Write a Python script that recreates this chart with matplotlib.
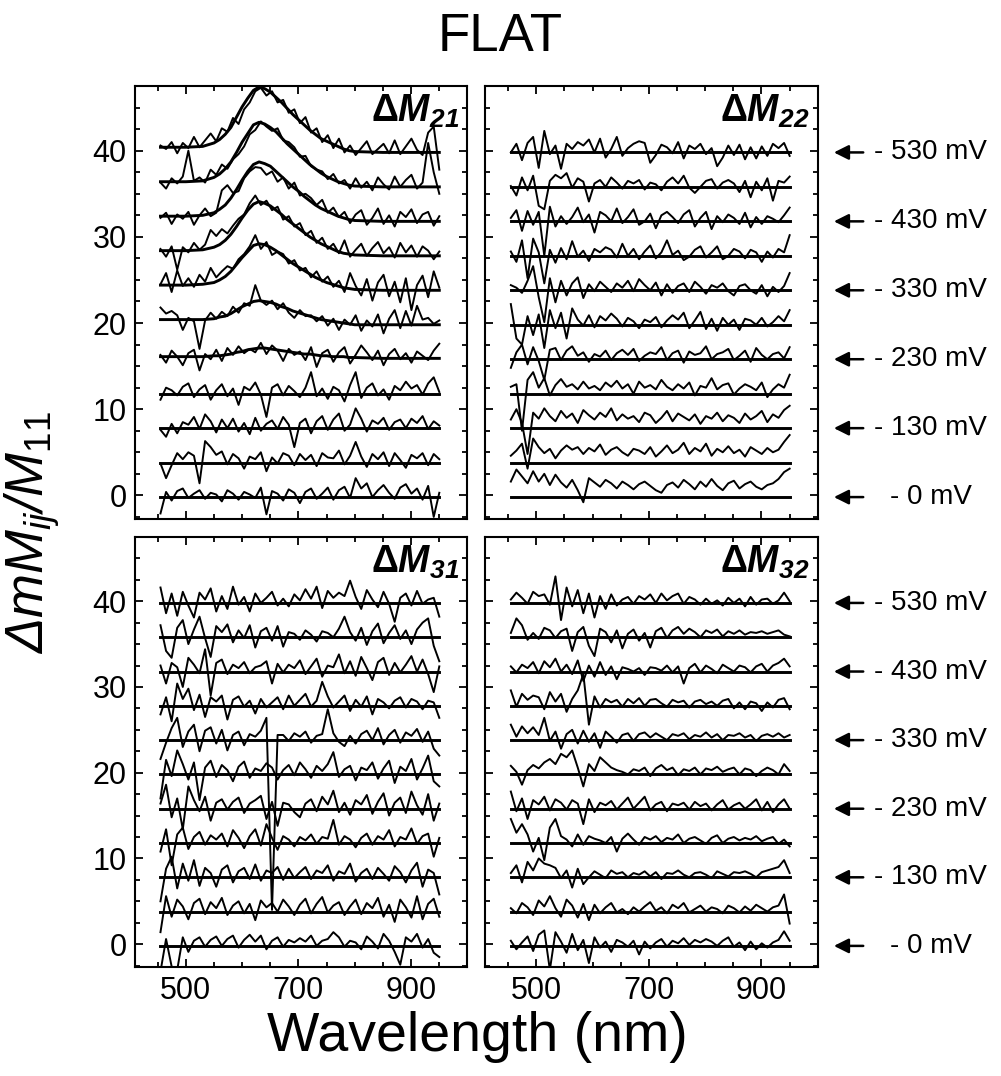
import numpy as np
import matplotlib.pyplot as plt
from matplotlib.ticker import MultipleLocator, FixedLocator
from matplotlib.transforms import blended_transform_factory

plt.rcParams['font.family'] = ['Liberation Sans', 'DejaVu Sans']
plt.rcParams['mathtext.fontset'] = 'custom'
plt.rcParams['mathtext.rm'] = 'Liberation Sans'
plt.rcParams['mathtext.it'] = 'Liberation Sans:italic'
plt.rcParams['mathtext.bf'] = 'Liberation Sans:bold'
plt.rcParams['mathtext.bfit'] = 'Liberation Sans:italic:bold'

# trace offsets (one trace per bias step) and labelled biases
offsets = [0, 4, 8, 12, 16, 20, 24, 28, 32, 36, 40]
bias_pos = [40, 32, 24, 16, 8, 0]
bias_labels = ['- 530 mV', '- 430 mV', '- 330 mV', '- 230 mV', '- 130 mV', '- 0 mV']
wl_start, wl_end = 455, 950

# dM21 measured traces (relative to offset), bottom to top
m21 = [
    [-2.1, 0.4, -0.6, 0.5, 0.8, -0.3, 0.2, 0.6, -0.4, 0.3, 0.1, -0.7, 0.6, 0.2, -0.5, 0.4, 0.1, -0.3, 0.9, -2.2, 0.5, 0.2, -0.6, 0.7, 0.3, -0.9, 0.4, 0.8, -0.4, 0.2, 0.9, -0.5, 0.6, 1.0, -0.3, 2.0, 0.8, 1.4, -0.2, 0.6, 1.2, 0.3, -0.4, 0.9, 1.3, 0.2, 0.8, -0.5, 1.1, -2.5, 0.3],
    [-0.3, -2.0, -0.5, 0.9, 0.2, 1.0, 0.6, -2.6, 2.3, 1.6, 0.7, 1.1, -0.4, 0.8, 0.3, -0.9, 0.5, 0.2, 1.0, -1.2, 0.4, -0.3, 0.9, 0.6, -0.5, 0.8, 0.1, 0.7, -0.6, 0.9, 0.4, 0.3, 1.2, -0.4, 0.6, 2.2, 0.5, -0.7, 0.8, 0.2, 1.0, -0.6, 0.9, 0.1, -0.8, 0.7, 0.3, 0.9, -0.5, 0.8, 0.2],
    [-0.4, -1.2, 0.3, -0.8, 0.5, 0.2, 1.1, -0.3, 1.4, 0.6, -0.7, 0.8, -0.2, 0.9, -0.6, 0.4, -0.9, 1.0, -0.5, 0.3, 0.7, -0.3, 1.1, 0.2, -2.4, 0.4, 0.9, -0.8, 0.6, 1.2, -0.4, 0.8, 1.5, -0.5, 0.2, 2.1, 0.9, -0.6, 0.7, 0.3, 1.0, -0.4, 0.5, 0.8, -0.2, 0.9, 0.4, 1.2, -0.3, 0.6, 0.1],
    [-0.9, 0.5, 0.2, -0.4, 0.6, 1.0, -0.6, 0.3, 0.8, -0.9, 0.2, 0.9, -0.5, 0.4, -1.5, 0.6, 0.2, 1.1, -0.3, -2.9, 0.5, 0.9, -0.4, 0.7, 0.1, -0.6, 0.5, 2.3, -0.5, 0.4, -0.8, 0.6, 0.2, -1.1, 0.8, 2.3, -0.7, 0.5, 1.0, -0.4, 0.3, -0.9, 0.7, 0.2, 1.2, 0.4, 0.8, -0.3, 1.0, 1.7, 0.0],
    [0.3, -0.6, 0.8, 0.1, -0.9, 0.5, 0.9, -1.5, 0.4, -0.2, 0.9, -0.4, 1.1, 0.3, 1.3, 0.5, 1.0, 0.6, 1.7, 0.4, 1.4, 0.8, -0.4, 1.0, 0.3, 0.7, -0.3, 1.2, -1.1, 0.5, 0.9, -0.5, 0.6, 1.2, -0.7, 0.3, 1.4, 0.6, -0.3, 0.8, -0.9, 0.4, 1.0, -0.2, 0.5, -0.6, 0.7, 0.2, -0.3, 0.8, 1.6],
    [1.8, 1.1, 1.4, 0.9, -0.8, 0.6, 0.2, -3.0, 0.3, 1.2, 0.5, 1.3, 0.8, 1.9, 1.2, 2.3, 2.0, 4.4, 2.6, 2.1, 2.6, 1.6, 2.3, 1.2, 0.6, 1.5, 0.8, 0.9, 0.2, 0.8, -0.3, 0.5, -0.8, 0.4, -0.2, 0.9, -0.9, 0.3, -0.4, 1.0, -1.2, 0.5, 1.5, -0.6, 1.4, -0.3, 2.0, 0.4, 0.6, -0.1, 0.3],
    [0.5, 1.8, -0.4, 2.1, 0.3, 1.2, 0.2, 1.6, 0.8, 2.4, 1.3, 2.0, 2.6, 2.3, 3.4, 4.0, 4.9, 6.2, 4.6, 5.4, 3.9, 4.3, 4.0, 2.9, 3.3, 2.1, 2.4, 1.3, 2.0, 0.8, 1.4, 0.2, 0.9, -0.4, 1.8, 0.3, -0.8, 1.1, -1.4, 0.7, 1.6, -0.9, 0.8, -1.6, 1.2, -2.5, 0.4, 1.5, -1.0, 2.0, 0.1],
    [0.6, -0.3, 0.9, -1.8, 0.8, 0.2, 1.3, 0.5, 1.1, 2.8, 2.1, 2.9, 2.4, 3.3, 4.1, 4.6, 5.9, 6.8, 5.7, 6.2, 5.1, 5.5, 4.0, 4.4, 3.2, 3.6, 2.2, 2.7, 1.3, 1.9, 0.6, 1.2, 0.1, 1.6, -0.3, 0.5, 1.2, -0.2, 0.7, 1.4, 0.1, 0.8, -0.4, 1.3, 0.2, 1.0, -0.3, 0.9, 0.4, -0.6, 0.3],
    [0.2, 0.8, -0.5, 0.6, 0.1, 0.9, -0.6, 0.5, 1.3, 0.4, 0.8, 3.4, 4.0, 3.1, 3.3, 4.8, 5.6, 6.1, 6.0, 5.2, 5.6, 4.4, 4.9, 3.6, 4.3, 2.8, 3.0, 2.5, 1.7, 2.3, 0.8, 1.4, 0.3, 0.9, -0.4, 0.6, 1.1, -0.6, 0.2, 1.3, -0.5, 0.5, -0.8, 0.9, 0.3, 1.2, -0.4, 0.6, 0.9, -0.7, 0.4],
    [0.3, -0.4, 0.8, 0.2, 1.0, 4.0, 0.5, 0.9, 0.3, 1.8, 1.2, 2.4, 1.9, 3.0, 3.6, 4.5, 5.9, 6.4, 7.4, 6.8, 6.3, 6.6, 5.2, 5.0, 4.4, 3.3, 3.4, 2.2, 1.8, 1.6, 0.7, 1.3, 0.2, 0.6, -0.4, 0.8, -0.3, 0.4, -0.6, 0.9, 0.1, -0.5, 1.0, -0.2, 0.6, 1.2, -0.4, 0.3, 4.9, 1.5, -1.0],
    [0.6, 0.2, 1.0, -0.3, 0.9, 0.3, 1.6, 0.4, 1.2, 2.0, 1.1, 2.6, 2.2, 3.8, 3.1, 4.8, 5.6, 6.9, 7.3, 6.4, 6.9, 5.6, 5.9, 4.4, 4.8, 3.2, 3.9, 2.1, 2.6, 1.0, 1.8, 0.3, 1.4, -0.2, 0.6, -0.5, 0.3, 1.1, -0.4, 0.2, 0.8, -0.3, 1.2, -0.4, 0.5, 1.4, 0.1, -0.5, 2.1, 2.8, -2.2],
]

# dM21 fitted peaks for the traces at 16..40
fit_wl = [455, 500, 530, 550, 560, 570, 580, 590, 600, 610, 620, 630, 640, 650, 660, 670,
          680, 690, 700, 710, 720, 730, 740, 750, 760, 770, 780, 790, 800, 850, 900, 950]
m21_fit = [
    [0.1, 0.1, 0.1, 0.2, 0.2, 0.3, 0.4, 0.6, 0.7, 0.9, 1.0, 1.1, 1.1, 1.0, 0.9, 0.8, 0.7, 0.6, 0.5, 0.4, 0.4, 0.3, 0.2, 0.2, 0.1, 0.1, 0.1, 0.0, 0.0, -0.1, -0.1, -0.1],
    [0.4, 0.4, 0.4, 0.5, 0.7, 0.8, 1.1, 1.5, 1.9, 2.2, 2.5, 2.6, 2.5, 2.4, 2.2, 1.9, 1.7, 1.4, 1.2, 1.0, 0.8, 0.6, 0.4, 0.3, 0.2, 0.1, 0.0, -0.1, -0.2, -0.2, -0.2, -0.2],
    [0.4, 0.4, 0.5, 0.7, 1.0, 1.4, 2.0, 2.8, 3.6, 4.3, 5.0, 5.2, 5.1, 4.8, 4.4, 3.9, 3.4, 2.9, 2.5, 2.1, 1.7, 1.3, 1.0, 0.7, 0.5, 0.3, 0.1, 0.0, -0.1, -0.2, -0.2, -0.2],
    [0.4, 0.4, 0.5, 0.8, 1.1, 1.6, 2.3, 3.2, 4.2, 5.1, 5.8, 6.1, 5.9, 5.6, 5.1, 4.6, 4.0, 3.5, 3.0, 2.5, 2.0, 1.6, 1.2, 0.9, 0.6, 0.3, 0.1, 0.0, -0.1, -0.2, -0.2, -0.2],
    [0.4, 0.4, 0.5, 0.8, 1.2, 1.7, 2.5, 3.5, 4.6, 5.6, 6.4, 6.7, 6.5, 6.2, 5.6, 5.0, 4.4, 3.8, 3.3, 2.7, 2.2, 1.7, 1.3, 1.0, 0.7, 0.4, 0.2, 0.0, -0.1, -0.2, -0.2, -0.2],
    [0.4, 0.4, 0.5, 0.9, 1.3, 1.9, 2.7, 3.8, 5.0, 6.0, 7.0, 7.3, 7.1, 6.7, 6.2, 5.5, 4.8, 4.2, 3.6, 3.0, 2.4, 1.9, 1.4, 1.0, 0.7, 0.4, 0.2, 0.0, -0.1, -0.2, -0.2, -0.2],
    [0.4, 0.4, 0.5, 0.9, 1.3, 1.9, 2.7, 3.9, 5.1, 6.1, 7.0, 7.4, 7.2, 6.8, 6.2, 5.6, 4.9, 4.2, 3.6, 3.0, 2.4, 1.9, 1.4, 1.1, 0.8, 0.5, 0.2, 0.0, -0.1, -0.2, -0.2, -0.2],
]

m22 = [
    [1.6, 3.0, 2.2, 1.4, 2.8, 1.6, 2.5, 1.2, 2.4, 1.5, 0.9, 1.8, 0.6, -0.8, 2.0, 1.5, 1.0, 1.8, 1.4, 0.8, 1.6, 1.2, 0.7, 1.3, 1.6, 1.1, 0.6, 0.3, 1.2, 1.5, 0.9, 1.8, 1.3, 0.7, 1.6, 1.0, 1.9, 1.1, 0.6, 1.4, 1.7, 0.8, 1.3, 1.6, 1.0, 0.7, 1.2, 1.4, 1.9, 2.7, 3.1],
    [0.6, 1.2, 2.0, -0.9, 2.6, 1.6, 0.9, 1.4, 0.3, 1.2, 1.8, 1.3, 1.6, 0.8, 1.5, 1.1, 1.9, 0.7, 1.3, 1.6, 1.0, 0.6, 1.4, 1.2, 0.8, 1.6, 0.5, 1.1, 1.8, 0.9, 1.3, 2.1, 0.8, 1.5, 1.1, 2.0, 0.6, 1.4, 1.0, 1.7, 0.9, 1.3, 0.5, 1.6, 1.2, 0.8, 1.5, 1.0, 1.3, 2.2, 3.0],
    [0.8, 2.0, 0.4, -3.2, 1.6, 0.9, 2.1, 1.2, 0.6, 1.8, 1.0, 1.5, 0.4, 1.9, 1.3, 0.8, 1.6, 1.1, 2.1, 0.7, 1.4, 0.9, 1.2, 0.5, 1.6, 1.3, 0.4, 1.0, 1.8, 0.6, 1.5, 1.1, 0.7, 1.4, 0.3, 1.2, 0.9, 1.6, 0.6, 1.3, 1.0, 0.4, 1.5, 0.8, 1.2, 1.8, 0.5, 1.4, 1.0, 1.9, 2.4],
    [0.6, 0.9, -4.5, 1.4, 2.3, 0.5, 1.6, -0.4, 0.8, 1.5, 0.6, 0.9, 0.3, 1.2, 0.4, 0.7, 0.2, 1.1, 0.6, 1.3, 0.4, 0.9, -0.2, 1.2, 0.5, 0.8, 0.3, 1.4, 0.6, 0.2, 0.9, 0.4, 1.1, -0.4, 0.7, 0.5, 1.6, 0.3, 0.8, 1.0, -0.3, 0.4, 0.9, 0.6, 0.2, 1.1, -0.6, 0.3, 0.9, 0.5, 2.0],
    [-1.2, 0.6, 1.5, -0.8, 1.2, -0.4, -2.6, 0.9, 1.1, -0.3, 0.8, 1.3, 0.2, 0.6, -0.5, 0.4, 0.1, 0.8, -0.3, 0.5, 0.9, 0.3, 1.0, -0.4, 0.2, 0.6, 0.4, 1.2, -0.3, 0.5, 0.8, -0.6, 0.7, 0.3, 0.5, 1.3, -0.2, 0.4, 0.6, 1.0, -0.3, 0.2, 0.8, -0.5, 1.1, 0.3, -0.2, 0.4, 0.6, -0.1, 1.2],
    [2.2, -1.8, -2.5, 0.8, -1.4, 1.0, -2.9, 1.5, -0.6, 1.2, -1.8, 1.7, 0.4, -0.3, 0.9, -0.5, 0.8, 0.3, 1.1, 0.5, -0.4, 0.6, 0.2, -0.6, 0.4, 0.1, 0.7, -0.5, 0.3, 0.9, 0.4, 1.2, -0.6, 0.3, 1.3, -0.7, 0.5, -0.9, 0.6, -0.2, 0.4, -0.8, 0.5, 0.3, -0.2, 0.6, -0.4, 0.1, 0.8, 0.2, 1.5],
    [0.4, 0.1, -0.5, 0.9, 2.6, -1.0, -3.9, 1.2, -1.6, 0.9, -0.8, 0.6, 1.3, -1.1, 0.5, -0.3, 0.8, 0.2, -0.4, 0.6, 0.1, 0.9, -0.3, 1.1, 0.4, -0.2, 0.7, -0.8, 0.5, -0.5, 0.3, 0.6, -0.4, 0.8, 0.2, -0.6, 0.4, 0.1, 0.6, -0.3, -0.8, 0.3, 0.5, -0.2, -0.6, 0.4, -0.9, 0.2, -0.4, 0.3, 1.8],
    [0.3, -0.9, 1.6, -2.8, 1.8, 0.2, -3.4, 0.5, -1.0, 0.7, -0.6, 1.5, -0.3, 0.4, -0.8, 0.6, 0.2, 0.8, 0.5, -0.4, 1.2, -0.2, 0.6, -0.6, 0.3, 1.0, -0.5, 0.2, 1.6, -0.1, 0.4, -0.7, -0.3, 0.5, 0.9, -0.4, 0.2, 0.9, -0.6, -0.2, 0.6, 0.3, -0.5, 0.5, 0.2, -0.9, 0.3, -0.4, 0.6, 0.2, 2.2],
    [0.2, 1.1, -1.3, 1.0, -0.6, 0.9, -4.2, 1.5, -0.8, 0.4, -0.5, 0.3, 1.4, -0.3, 0.6, -1.5, 0.9, 0.5, -0.2, 1.3, -0.4, 0.3, 1.2, -0.6, -0.2, 0.7, -1.0, 0.5, 0.9, 0.3, -0.4, 0.6, 1.1, -0.8, 0.2, 0.9, -1.1, 0.4, -0.3, 0.6, 0.2, -0.5, 0.8, -0.9, 0.3, -0.5, 0.4, 0.1, -0.3, 0.5, 1.4],
    [-0.1, -1.2, 0.9, -0.6, 1.1, -2.4, -2.8, 0.5, 1.2, 0.8, 1.4, -0.3, 0.8, 0.4, -1.9, 0.2, 0.6, -0.2, 0.9, 0.3, -0.4, 0.5, 0.2, 0.6, -0.5, 0.3, 0.1, -0.6, 0.4, 0.9, 0.2, 1.1, -0.3, -0.9, -0.2, 0.5, 0.7, -0.4, 0.3, 0.6, 0.2, -0.8, 0.5, -1.4, 0.4, -0.6, 0.8, -1.8, 0.5, 0.3, 1.0],
    [-0.2, 0.8, -1.1, 0.9, 1.6, -2.0, 2.3, -0.4, 0.6, -2.1, 0.8, 0.2, 1.0, 0.6, 1.3, -0.2, 1.4, -0.8, 0.2, 1.6, -0.6, 0.3, 0.8, 1.1, 0.9, -1.4, -0.5, 0.7, 0.4, -0.3, 1.0, -0.9, 0.6, 0.2, 0.8, -0.4, 0.3, -1.8, -0.8, 0.6, -0.5, 0.7, -1.0, 0.4, -0.9, 0.5, -0.6, 0.8, 0.3, 0.9, -0.6],
]

m31 = [
    [-3.2, 0.6, -2.6, -3.0, 0.8, -0.9, 0.4, 0.8, -0.3, 0.5, 0.9, -0.2, 0.6, 1.0, -0.4, 0.5, 1.1, 0.3, 1.0, -0.6, 0.4, 0.8, -0.3, 0.5, 0.2, 0.7, 0.3, 1.0, -0.2, 0.4, 0.6, 1.4, 0.8, -0.3, 0.4, 0.2, -0.6, 0.9, 0.3, -0.5, 1.2, 0.4, -0.9, -2.4, 0.8, 0.3, 1.2, -0.4, 0.6, -1.0, -1.5],
    [-2.6, 1.6, -0.8, 1.2, 0.4, -1.1, 0.8, 1.3, -0.5, 0.9, 0.2, 1.4, -0.6, 0.5, 1.0, -0.4, 0.7, -1.2, 1.1, 0.3, 0.8, -0.2, 1.2, 0.4, -0.6, 0.6, 1.3, -0.4, 0.7, 1.5, -0.3, 0.5, 0.9, -0.6, 0.4, 1.2, -0.5, 0.8, 0.2, 1.4, -0.8, 0.6, -1.4, 1.2, 0.3, -0.9, 1.6, -1.1, 0.7, 1.3, -0.8],
    [-3.0, 0.8, 2.2, -1.5, 1.4, -0.6, 1.8, -1.2, 0.9, 0.3, -1.3, 0.7, 1.2, -0.8, 0.5, 0.9, -0.4, 1.3, -0.6, 0.6, 0.3, 1.0, -0.5, 0.8, -0.3, 0.4, 1.0, -0.4, 0.6, 0.3, 1.2, -0.6, 0.5, 0.2, 1.4, -0.7, 0.3, 0.8, -0.4, 0.9, 0.2, -0.6, 1.1, 0.4, -0.8, 0.6, 1.5, -1.3, 0.7, 0.3, -2.2],
    [-1.2, 1.4, -2.8, 0.8, 1.6, -0.9, 0.5, 1.1, -0.4, 0.7, 0.2, 0.9, -0.6, 1.3, 0.4, -0.8, 0.6, 1.4, -0.5, 2.0, 0.4, -1.0, 0.6, 0.2, -0.6, 0.5, 0.1, 0.8, -0.3, 0.5, 0.3, 2.5, -0.4, 0.6, 0.2, -0.7, 0.4, 0.9, -0.4, 0.6, 0.2, 1.3, -0.6, 0.5, 0.2, 1.5, -0.3, 0.6, 0.9, -1.8, 0.4],
    [0.4, 2.6, -1.2, 1.0, -2.6, 2.4, 0.8, -0.5, 1.2, -1.6, 0.5, 0.9, -0.3, 0.6, 1.1, -0.7, 0.4, 0.8, 1.3, -1.4, 0.6, -2.2, 0.5, 0.3, -0.6, -1.2, 0.4, 0.9, -0.5, 1.2, 0.3, 1.9, -0.6, 0.5, -0.9, 0.8, 0.3, 1.4, -0.8, 0.6, 1.6, -1.0, 0.5, 1.1, -0.7, 1.8, 0.2, -0.9, 1.5, -1.6, 0.4],
    [-3.0, 1.5, -0.4, 2.6, 1.0, -0.8, 1.2, -3.2, 0.6, 1.4, -0.5, 0.9, 0.3, -1.0, 0.7, 1.3, -0.6, 0.5, 0.2, 1.1, 0.6, -0.8, 0.3, 0.9, -0.3, 1.2, 0.4, -0.6, 0.8, 0.2, 1.0, 2.4, -0.5, 0.4, 0.8, -0.9, 0.6, 0.3, 1.2, -0.7, 0.5, 1.4, -1.2, 0.7, 0.2, 1.6, -0.8, 0.5, 2.0, -1.0, -1.6],
    [-2.4, -0.5, 1.2, 2.4, -1.0, 0.8, 1.6, -1.5, 0.9, 1.3, -0.6, 1.0, -1.4, 0.4, 0.8, -0.8, 0.5, 0.2, 0.9, 2.4, -20.0, 0.4, 0.4, -0.3, 0.6, 0.2, 0.8, -0.5, 0.3, 0.5, 3.4, 0.6, -0.4, -0.9, 0.3, -0.6, 0.5, 0.9, -0.2, 1.2, -0.7, 0.4, 1.0, -0.5, 0.7, 0.3, 1.1, -0.4, 0.8, -1.2, -2.0],
    [-1.2, 0.8, -2.0, 2.4, 0.6, 1.8, -0.7, 1.1, -1.5, 0.8, 0.3, 1.0, -1.8, 0.5, 0.9, -0.3, 0.4, -1.1, 0.6, -0.4, 0.2, 0.8, -0.6, 1.0, -0.2, 0.5, 1.2, -0.3, 0.4, 2.6, 0.9, -0.4, 0.3, 1.0, -0.8, 0.5, -0.3, 0.9, -1.2, 0.6, 0.2, -0.5, 0.4, 0.8, -0.4, 0.6, 0.3, -0.6, 0.4, 0.2, -1.6],
    [0.5, -1.6, 0.8, 0.3, -2.0, 1.4, 0.6, -0.4, 2.4, -3.0, 0.8, 1.2, -0.5, 0.6, 0.2, 0.9, -0.4, 0.3, 0.5, 1.0, -1.6, 0.7, -0.3, 0.6, 0.2, 1.1, -0.5, 0.4, 1.3, -0.8, 0.5, 0.3, 1.8, -0.4, 1.0, -0.7, 1.5, 0.2, -1.2, 0.9, 1.4, -0.6, 0.8, -0.3, 0.6, 1.6, -0.2, 1.2, -0.5, -2.6, 0.4],
    [1.2, -1.8, -2.6, 0.9, 1.8, -1.0, 0.7, 2.2, -0.3, -2.5, 1.1, 0.4, 1.3, -0.8, 0.6, -0.3, 1.2, -1.4, 0.5, 0.9, -0.6, 1.1, -1.3, 0.4, 0.2, -0.5, 0.6, 0.1, -0.7, 0.5, 0.3, -0.2, 0.8, 2.2, 0.4, -0.6, 0.9, -1.1, 0.5, 1.4, -0.9, 0.3, 1.2, -0.4, 0.6, -1.0, 0.7, 1.5, 2.0, -1.2, -3.0],
    [1.6, -1.4, 0.9, -1.7, 1.1, -0.5, -1.9, 1.0, 0.2, 1.5, -1.2, 0.6, -0.9, 1.7, -0.4, 0.5, -1.2, 0.9, -0.2, 0.4, 1.1, -0.5, 0.3, -0.6, 0.8, 0.1, 1.4, 0.3, 1.7, -0.8, 1.2, 0.4, 1.0, 0.6, 2.4, 0.5, -0.9, 1.3, 0.2, -0.7, 1.1, -0.3, -2.4, 0.4, 0.9, -0.5, 1.2, -0.3, 0.2, 0.4, -1.8],
]

m32 = [
    [0.4, -0.6, 0.2, 0.9, -0.8, 1.1, 1.6, -3.0, 1.4, 0.3, -1.0, 1.2, -0.7, 0.5, -2.2, 0.8, -0.4, 0.3, -0.9, 0.5, 0.2, -0.3, 0.4, -1.2, 0.3, -0.5, 0.2, 0.6, -0.3, 0.4, 0.1, 0.7, -0.1, 0.5, 0.2, 0.6, 0.3, -0.2, 0.4, 0.8, -0.3, 0.2, -0.7, 0.3, -0.6, 0.1, -0.4, 0.2, 0.5, 1.5, 0.4],
    [0.2, -0.4, 0.8, 0.3, -0.6, 1.1, 0.4, 1.6, 0.2, -0.8, 1.2, 0.5, -0.9, 0.7, -1.2, 0.6, -0.4, 0.3, 0.8, -0.3, 0.1, -0.5, 0.3, -0.2, 0.4, 0.9, -0.1, 0.3, -0.4, 0.6, 0.2, 0.8, -0.3, 0.1, 0.5, -0.2, 0.3, 0.1, -0.4, 0.5, 0.2, -0.3, 0.4, -0.1, 0.6, 0.2, -0.2, 0.3, 0.5, 1.8, -1.6],
    [0.3, 1.2, -0.8, 1.6, 0.6, 2.0, 1.4, 1.2, 0.9, -0.3, 0.6, -1.4, 0.8, -1.0, -0.2, 0.5, 0.1, -0.3, 0.6, 0.2, 0.4, -0.2, 0.3, 0.1, 0.5, -0.1, 0.4, -0.4, 0.3, 0.2, 0.6, 0.1, -0.2, 0.3, 0.4, 0.1, -0.3, 0.5, 0.2, -0.1, 0.4, 0.3, 0.5, 0.2, -0.2, 0.4, 0.6, 0.8, 1.0, 1.8, 0.3],
    [2.6, 1.0, 2.0, 0.8, -1.2, 0.4, -2.2, 1.6, 2.6, 0.6, 0.2, -0.6, 0.8, -0.4, 0.6, 0.3, 0.1, -0.2, 0.5, -1.2, 0.3, 0.9, 0.2, -0.4, 0.5, 0.2, 0.6, -0.1, 0.4, 0.2, 0.8, -0.2, 0.3, 0.5, 0.1, -0.3, 0.4, 0.7, -0.2, 0.3, 0.5, 0.1, 0.4, 0.2, 0.6, 0.0, 0.3, 0.5, -0.3, 0.2, -0.6],
    [1.8, -0.5, 1.0, -1.4, 0.8, 0.3, 1.2, -0.4, 0.9, 0.5, -0.3, 0.8, 0.4, -2.0, 0.9, -0.6, 0.5, 0.2, 0.7, -0.3, 0.4, 1.1, -0.2, 0.5, 1.2, -0.4, 0.3, 0.6, -0.5, 0.4, 0.2, 0.5, -0.3, 0.6, 0.1, 0.4, -0.4, 0.3, 0.8, -0.3, 0.2, 0.5, -0.2, 0.3, 0.9, -0.4, 0.6, -0.6, 0.3, 0.9, -0.2],
    [0.8, 0.1, -1.4, 0.3, 0.9, 0.5, 1.2, 1.6, 1.0, 2.2, 1.8, 2.6, 0.6, -1.6, 1.0, 0.2, 1.8, 1.2, 0.6, 0.3, 0.1, -0.2, 0.4, 0.2, 0.6, -0.4, 0.5, 0.9, 0.3, 0.6, -0.3, 0.4, 0.2, 0.6, -0.2, 0.5, 0.3, 0.7, 0.1, 0.4, 0.6, -0.2, 0.5, 0.3, -0.4, 0.2, 0.6, 0.3, -0.2, 1.0, 0.2],
    [1.6, 0.2, 1.4, 0.6, 1.3, 0.4, 2.4, -0.3, 0.8, -1.2, 0.5, 1.0, -0.6, 0.9, -0.4, 0.6, -1.1, 0.8, 0.2, -0.5, 0.4, 0.6, -0.3, 0.5, 0.7, 0.1, 0.6, 0.2, -0.2, 0.5, 0.3, 0.6, -0.1, 0.4, 0.2, 0.7, 0.1, 0.5, -0.2, 0.4, 0.3, 0.6, 0.1, 0.4, -0.3, 0.3, 0.5, 0.2, 0.6, 0.1, 0.4],
    [1.6, -0.3, 1.2, 0.5, 1.0, 0.8, -0.6, 1.4, 0.3, 1.2, -0.9, 0.6, 1.6, 3.5, -2.4, 0.9, -0.4, 0.6, 0.2, 0.5, -0.3, 0.6, 0.1, 0.7, -0.2, 0.5, 0.6, 0.1, -0.3, 0.5, 0.2, 0.4, -0.4, 0.3, 0.5, 0.0, 0.3, -0.2, 0.4, 0.6, -0.5, 0.2, -0.6, 0.3, 0.1, -0.8, 0.2, -0.4, 0.5, 0.7, -0.6],
    [0.4, -0.3, 0.6, 0.2, 0.9, -0.4, 1.0, 0.3, 1.3, -0.2, 0.6, -0.5, 1.1, -1.3, 0.5, -0.8, 0.9, -0.6, 0.4, -1.1, 0.3, 0.1, -0.2, 0.2, -0.6, 0.3, 0.2, -0.1, 0.5, -0.3, 0.4, -1.6, 0.2, 0.7, -0.3, 0.5, 0.1, -0.4, 0.6, 0.2, -0.2, 0.5, 0.3, -0.3, 0.4, 0.7, -0.2, 0.5, 0.8, 1.3, 0.4],
    [0.3, 2.0, 1.2, -0.5, 0.3, -0.4, 0.9, 0.6, -0.3, 0.5, 0.8, -1.8, 0.4, 1.0, -1.2, -2.4, 0.8, 0.4, -0.8, 0.6, -1.5, 0.2, 0.7, -0.6, 0.3, -1.4, 0.5, 0.9, -0.3, 0.6, 1.0, 0.2, 0.8, 0.4, -0.2, 0.6, 0.3, 0.7, -0.1, 0.5, 0.2, 0.6, 0.1, 0.4, 0.3, 0.5, 0.2, 0.4, 0.6, 0.1, -0.1],
    [0.2, 1.0, 0.4, -0.3, 1.1, 0.6, 0.8, -0.4, 2.9, -2.2, 1.6, -0.6, 1.3, -1.4, 0.9, -1.9, 0.6, -0.9, 0.8, -0.5, 0.2, 0.5, -0.3, 0.6, 0.2, 0.8, -0.2, 0.9, 0.1, 0.6, 0.9, -0.3, 0.5, 0.2, -0.4, 0.3, -0.3, 0.1, -0.5, 0.4, -0.2, 0.3, -0.6, 0.5, -0.4, 0.2, 0.3, -0.3, 0.1, 1.0, 0.0],
]
flat_fit = -0.2


def draw_panel(ax, traces, name, peak_fits=None):
    for k, (off, vals) in enumerate(zip(offsets, traces)):
        wl = np.linspace(wl_start, wl_end, len(vals))
        ax.plot(wl, off + np.array(vals), color='black', lw=1.4)
        if peak_fits is not None and k >= len(offsets) - len(peak_fits):
            fit = peak_fits[k - (len(offsets) - len(peak_fits))]
            ax.plot(fit_wl, off + np.array(fit), color='black', lw=2.1)
        else:
            ax.plot([wl_start, wl_end], [off + flat_fit] * 2, color='black', lw=2.1)
    ax.set_xlim(410, 1000)
    ax.set_ylim(-2.7, 47.5)
    ax.xaxis.set_major_locator(FixedLocator([500, 700, 900]))
    ax.xaxis.set_minor_locator(MultipleLocator(50))
    ax.yaxis.set_major_locator(MultipleLocator(10))
    ax.yaxis.set_minor_locator(MultipleLocator(2.5))
    ax.tick_params(which='both', direction='in', top=True, right=True, width=1.3,
                   labelsize=22, pad=6)
    ax.tick_params(which='major', length=6)
    ax.tick_params(which='minor', length=3.5)
    for s in ax.spines.values():
        s.set_linewidth(1.5)
    ax.text(0.975, 0.985, name, transform=ax.transAxes, ha='right', va='top', fontsize=27)


fig = plt.figure(figsize=(10.01, 10.76), dpi=100)
ax21 = fig.add_axes([0.135, 0.518, 0.332, 0.402])
ax22 = fig.add_axes([0.485, 0.518, 0.332, 0.402])
ax31 = fig.add_axes([0.135, 0.101, 0.332, 0.400])
ax32 = fig.add_axes([0.485, 0.101, 0.332, 0.400])

draw_panel(ax21, m21, r'$\mathbf{\Delta}\mathbfit{M}_{\mathbfit{21}}$', m21_fit)
draw_panel(ax22, m22, r'$\mathbf{\Delta}\mathbfit{M}_{\mathbfit{22}}$')
draw_panel(ax31, m31, r'$\mathbf{\Delta}\mathbfit{M}_{\mathbfit{31}}$')
draw_panel(ax32, m32, r'$\mathbf{\Delta}\mathbfit{M}_{\mathbfit{32}}$')

for ax in (ax21, ax22):
    ax.tick_params(labelbottom=False)
for ax in (ax22, ax32):
    ax.tick_params(labelleft=False)

# bias arrows on the right of the right-hand panels
for ax in (ax22, ax32):
    tr = blended_transform_factory(ax.transAxes, ax.transData)
    for y, lab in zip(bias_pos, bias_labels):
        ax.annotate('', xy=(1.04, y + flat_fit), xycoords=tr, xytext=(1.145, y + flat_fit),
                    textcoords=tr, annotation_clip=False,
                    arrowprops=dict(arrowstyle='-|>', color='black', lw=1.8, mutation_scale=22))
        ax.text(1.34, y + flat_fit, lab, transform=tr, ha='center', va='center',
                fontsize=20, clip_on=False)

fig.text(0.5, 0.966, 'FLAT', ha='center', va='center', fontsize=38)
fig.text(0.477, 0.036, 'Wavelength (nm)', ha='center', va='center', fontsize=40)
fig.text(0.032, 0.505, r'ΔmM$_{\mathit{ij}}$/M$_{\mathit{11}}$', ha='center',
         va='center', rotation=90, fontsize=38, fontstyle='italic')

fig.savefig('out.png', dpi=100)
